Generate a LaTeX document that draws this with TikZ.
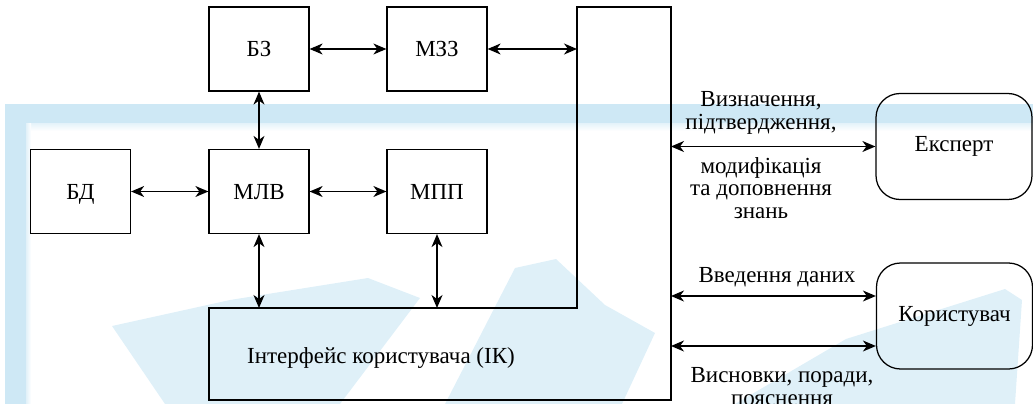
\documentclass[tikz,border=0pt]{standalone}
\usepackage{fontspec}
\setmainfont{Liberation Serif}
\usetikzlibrary{arrows.meta}
\definecolor{wmblue}{RGB}{206,232,245}
\begin{document}
\begin{tikzpicture}[x=1pt,y=-1pt,
  every node/.style={font=\fontsize{23}{22.5}\selectfont, inner sep=0pt},
  blk/.style={draw, line width=1.25pt, minimum width=100pt, minimum height=84pt,
    text height=15pt, text depth=0pt},
  rblk/.style={draw, line width=1.25pt, rounded corners=24pt, minimum width=156pt,
    minimum height=106pt, text height=15pt, text depth=5pt},
  link/.style={line width=1.3pt,
    {Stealth[length=13pt,width=11pt,inset=4pt]}-{Stealth[length=13pt,width=11pt,inset=4pt]}},
  lbl/.style={align=center, anchor=base},
  wm/.style={fill=wmblue}
]
\useasboundingbox (0,0) rectangle (1033,404);

% light background pattern
\fill[wm] (5,104) rectangle (1033,123);
\shade[top color=wmblue!55, bottom color=white] (30,123) rectangle (1033,131);
\fill[wm] (5,123) rectangle (26,404);
\shade[left color=wmblue!60, right color=white] (26,123) rectangle (31,404);
\fill[wm, opacity=0.65] (112,326) -- (230,300) -- (368,278) -- (420,298) -- (340,404) -- (165,404) -- cycle;
\fill[wm, opacity=0.65] (445,404) -- (515,268) -- (556,259) -- (605,305) -- (655,333) -- (622,404) -- cycle;
\fill[wm, opacity=0.65] (735,404) -- (846,339) -- (1005,289) -- (1022,300) -- (1015,404) -- cycle;

% knowledge and inference modules
\node[blk] (bz)  at (259,49)    {БЗ};
\node[blk] (mzz) at (437,49)    {МЗЗ};
\node[blk] (bd)  at (80.5,191.5) {БД};
\node[blk] (mlv) at (259,191.5) {МЛВ};
\node[blk] (mpp) at (437,191.5) {МПП};

% user interface outline (L-shaped)
\draw[line width=1.25pt] (577,7) coordinate (ik-nw) -- (671,7) coordinate (ik-ne)
  -- (671,400) -- (209,400) -- (209,308) -- (577,308) coordinate (ik-ledge) -- cycle;
\node[anchor=base] (ik) at (381,363) {Інтерфейс користувача (ІК)};
\coordinate (ik-r1) at (671,296);
\coordinate (ik-r2) at (671,346);

% external actors
\node[rblk] (expert) at (954,146.5) {Експерт};
\node[rblk] (user)   at (954.5,316) {Користувач};

% connectors
\draw[link] (bz) -- (mzz);
\draw[link] (mzz.east) -- (mzz.east -| ik-nw);
\draw[link] (bz) -- (mlv);
\draw[link] (bd) -- (mlv);
\draw[link] (mlv) -- (mpp);
\draw[link] (mlv.south) -- (mlv.south |- ik-ledge);
\draw[link] (mpp.south) -- (mpp.south |- ik-ledge);
\draw[link] (ik-ne |- expert.west) -- (expert.west);
\draw[link] (ik-r1) -- (ik-r1 -| user.west);
\draw[link] (ik-r2) -- (ik-r2 -| user.west);

% connector labels (base = baseline of the last line)
\node[lbl] (l-def) at (761,129) {Визначення,\\підтвердження,};
\node[lbl] (l-mod) at (761,218) {модифікація\\та доповнення\\знань};
\node[lbl] (l-in)  at (777,282) {Введення даних};
\node[lbl] (l-out) at (782,405) {Висновки, поради,\\пояснення};
\end{tikzpicture}
\end{document}
